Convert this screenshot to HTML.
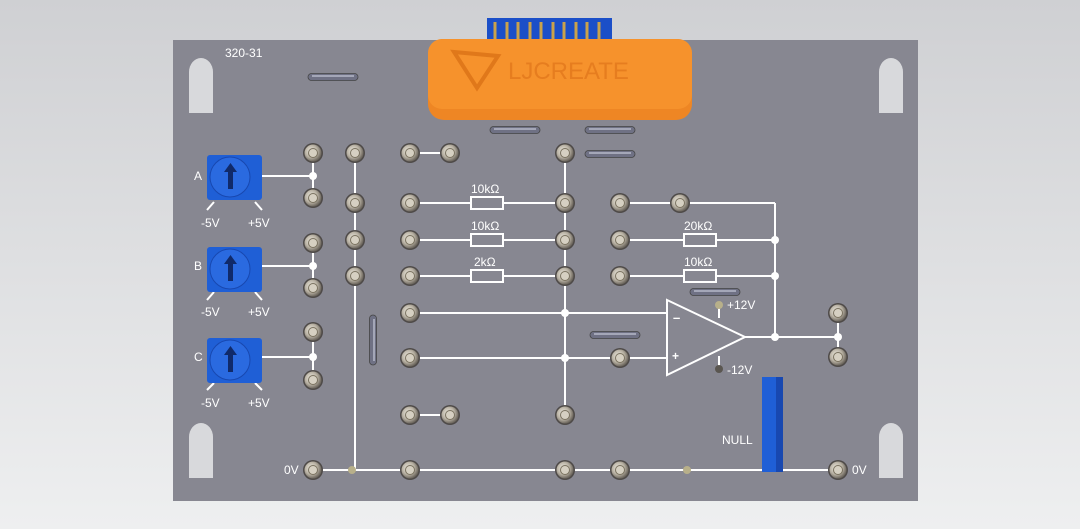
<!DOCTYPE html>
<html><head><style>
html,body{margin:0;padding:0;width:1080px;height:529px;overflow:hidden;background:#e4e5e7}
svg{display:block}
text{font-family:"Liberation Sans",sans-serif;fill:#fff}
</style></head><body>
<svg width="1080" height="529" viewBox="0 0 1080 529" xmlns="http://www.w3.org/2000/svg">
<defs>
<linearGradient id="bg" x1="0" y1="0" x2="0" y2="1"><stop offset="0" stop-color="#cfd0d3"/><stop offset="1" stop-color="#eeeff0"/></linearGradient>
<radialGradient id="sk" cx="0.4" cy="0.4" r="0.6"><stop offset="0" stop-color="#f2efe6"/><stop offset="0.6" stop-color="#b9b2a4"/><stop offset="1" stop-color="#6d675e"/></radialGradient>
<g id="s"><circle r="10" fill="#4e4a48"/><circle r="8.5" fill="url(#sk)"/><circle r="5" fill="#7a7260"/><circle r="4" fill="#d6d0c2"/></g>
<g id="pot"><rect x="0" y="0" width="55" height="45" rx="3" fill="#1f5fd6"/><circle cx="23" cy="22" r="20" fill="#2a6ae0" stroke="#1848b0"/><rect x="21" y="12" width="5" height="22" fill="#102a6a"/><path d="M17,17 L23.5,8 L30,17 Z" fill="#102a6a"/></g>
<g id="link"><rect x="0" y="-3.5" width="50" height="7" rx="3.5" fill="#6f7184" stroke="#444" stroke-width="0.8"/><rect x="4" y="-2" width="42" height="2" fill="#a4a7b8"/></g>
<path id="slot" d="M0,55 L0,14 A12,14 0 0 1 24,14 L24,55 Z"/>
</defs>
<rect width="1080" height="529" fill="url(#bg)"/>
<rect x="173" y="40" width="745" height="461" fill="#878791"/>
<!-- slots -->
<g fill="#d8d9dc">
<use href="#slot" x="189" y="58"/><use href="#slot" x="879" y="58"/>
<use href="#slot" x="189" y="423"/><use href="#slot" x="879" y="423"/>
</g>
<!-- connector -->
<rect x="487" y="18" width="125" height="24" fill="#1b4fc8"/>
<g stroke="#c9a24a" stroke-width="3">
<line x1="495" y1="22" x2="495" y2="40"/><line x1="507" y1="22" x2="507" y2="40"/><line x1="518" y1="22" x2="518" y2="40"/><line x1="530" y1="22" x2="530" y2="40"/><line x1="541" y1="22" x2="541" y2="40"/><line x1="553" y1="22" x2="553" y2="40"/><line x1="564" y1="22" x2="564" y2="40"/><line x1="576" y1="22" x2="576" y2="40"/><line x1="587" y1="22" x2="587" y2="40"/><line x1="599" y1="22" x2="599" y2="40"/></g>
<rect x="428" y="39" width="264" height="81" rx="16" fill="#ee8624"/>
<rect x="428" y="39" width="264" height="70" rx="14" fill="#f6922c"/>
<path d="M454,52 L498,56 L477,88 Z" fill="none" stroke="#e0781a" stroke-width="4"/>
<text x="508" y="79" font-size="24" style="fill:#e67d1f">LJCREATE</text>
<text x="225" y="57" font-size="12">320-31</text>
<!-- wires -->
<g stroke="#fff" stroke-width="2" fill="none">
<line x1="313" y1="153" x2="313" y2="198"/><line x1="262" y1="176" x2="313" y2="176"/>
<line x1="313" y1="243" x2="313" y2="288"/><line x1="262" y1="266" x2="313" y2="266"/>
<line x1="313" y1="332" x2="313" y2="380"/><line x1="262" y1="357" x2="313" y2="357"/>
<line x1="355" y1="153" x2="355" y2="470"/>
<line x1="410" y1="153" x2="450" y2="153"/><line x1="410" y1="415" x2="450" y2="415"/>
<line x1="410" y1="203" x2="565" y2="203"/><line x1="410" y1="240" x2="565" y2="240"/><line x1="410" y1="276" x2="565" y2="276"/>
<line x1="565" y1="153" x2="565" y2="415"/>
<line x1="410" y1="313" x2="667" y2="313"/><line x1="410" y1="358" x2="667" y2="358"/>
<line x1="620" y1="203" x2="775" y2="203"/><line x1="620" y1="240" x2="775" y2="240"/><line x1="620" y1="276" x2="775" y2="276"/>
<line x1="775" y1="203" x2="775" y2="337"/>
<line x1="745" y1="337" x2="838" y2="337"/><line x1="838" y1="313" x2="838" y2="357"/>
<line x1="719" y1="305" x2="719" y2="318"/><line x1="719" y1="356" x2="719" y2="369"/>
<line x1="313" y1="470" x2="838" y2="470"/>
<path d="M667,300 L745,337 L667,375 Z" fill="#878791"/>
<line x1="207" y1="210" x2="214" y2="202"/><line x1="262" y1="210" x2="255" y2="202"/>
<line x1="207" y1="300" x2="214" y2="292"/><line x1="262" y1="300" x2="255" y2="292"/>
<line x1="207" y1="390" x2="214" y2="383"/><line x1="262" y1="390" x2="255" y2="383"/>
</g>
<g fill="#878791" stroke="#fff" stroke-width="2">
<rect x="471" y="197" width="32" height="12"/><rect x="471" y="234" width="32" height="12"/><rect x="471" y="270" width="32" height="12"/>
<rect x="684" y="234" width="32" height="12"/><rect x="684" y="270" width="32" height="12"/>
</g>
<g fill="#fff">
<circle cx="313" cy="176" r="4"/><circle cx="313" cy="266" r="4"/><circle cx="313" cy="357" r="4"/>
<circle cx="565" cy="313" r="4"/><circle cx="565" cy="358" r="4"/>
<circle cx="775" cy="240" r="4"/><circle cx="775" cy="276" r="4"/><circle cx="775" cy="337" r="4"/><circle cx="838" cy="337" r="4"/>
</g>
<text x="673" y="322" font-size="13" font-weight="bold">–</text><text x="672" y="360" font-size="12" font-weight="bold">+</text>
<g font-size="12">
<text x="471" y="193">10kΩ</text><text x="471" y="230">10kΩ</text><text x="474" y="266">2kΩ</text>
<text x="684" y="230">20kΩ</text><text x="684" y="266">10kΩ</text>
<text x="727" y="309">+12V</text><text x="727" y="374">-12V</text>
<text x="722" y="444">NULL</text>
<text x="284" y="474">0V</text><text x="852" y="474">0V</text>
<text x="194" y="180">A</text><text x="194" y="270">B</text><text x="194" y="361">C</text>
<text x="201" y="227">-5V</text><text x="248" y="227">+5V</text>
<text x="201" y="316">-5V</text><text x="248" y="316">+5V</text>
<text x="201" y="407">-5V</text><text x="248" y="407">+5V</text>
</g>
<!-- pots -->
<use href="#pot" x="207" y="155"/><use href="#pot" x="207" y="247"/><use href="#pot" x="207" y="338"/>
<rect x="762" y="377" width="21" height="95" fill="#1f5fd6"/><rect x="776" y="377" width="7" height="95" fill="#1848b0"/>
<!-- links -->
<use href="#link" x="308" y="77"/><use href="#link" x="490" y="130"/><use href="#link" x="585" y="130"/><use href="#link" x="585" y="154"/>
<use href="#link" x="590" y="335"/><use href="#link" x="690" y="292"/>
<use href="#link" transform="translate(373,315) rotate(90)"/>
<circle cx="719" cy="305" r="4" fill="#b8b08a"/><circle cx="719" cy="369" r="4" fill="#5a5650"/>
<circle cx="352" cy="470" r="4" fill="#b8b08a"/><circle cx="687" cy="470" r="4" fill="#b8b08a"/>
<!-- sockets -->
<g>
<use href="#s" x="313" y="153"/><use href="#s" x="313" y="198"/><use href="#s" x="313" y="243"/><use href="#s" x="313" y="288"/><use href="#s" x="313" y="332"/><use href="#s" x="313" y="380"/><use href="#s" x="313" y="470"/>
<use href="#s" x="355" y="153"/><use href="#s" x="355" y="203"/><use href="#s" x="355" y="240"/><use href="#s" x="355" y="276"/>
<use href="#s" x="410" y="153"/><use href="#s" x="410" y="203"/><use href="#s" x="410" y="240"/><use href="#s" x="410" y="276"/><use href="#s" x="410" y="313"/><use href="#s" x="410" y="358"/><use href="#s" x="410" y="415"/><use href="#s" x="410" y="470"/>
<use href="#s" x="450" y="153"/><use href="#s" x="450" y="415"/>
<use href="#s" x="565" y="153"/><use href="#s" x="565" y="203"/><use href="#s" x="565" y="240"/><use href="#s" x="565" y="276"/><use href="#s" x="565" y="415"/><use href="#s" x="565" y="470"/>
<use href="#s" x="620" y="203"/><use href="#s" x="620" y="240"/><use href="#s" x="620" y="276"/><use href="#s" x="620" y="358"/><use href="#s" x="620" y="470"/>
<use href="#s" x="680" y="203"/>
<use href="#s" x="838" y="313"/><use href="#s" x="838" y="357"/><use href="#s" x="838" y="470"/>
</g>
</svg>
</body></html>
